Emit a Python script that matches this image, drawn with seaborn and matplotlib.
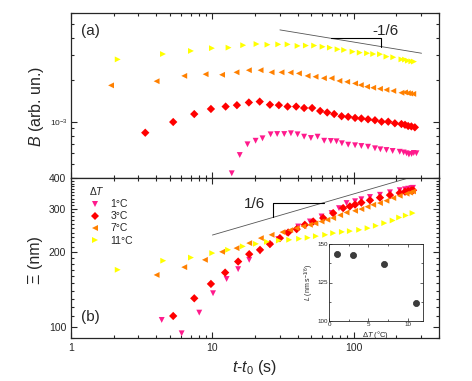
import pandas as pd
import seaborn as sns
import matplotlib.pyplot as plt
from matplotlib.ticker import FixedLocator, NullFormatter, LogLocator

# ---- data ----
labels = ['1°C', '3°C', '7°C', '11°C']
colors = {'1°C': '#ff1a8c', '3°C': '#ff0000', '7°C': '#ff8000', '11°C': '#ffff00'}
marks = {'1°C': 'v', '3°C': 'D', '7°C': '<', '11°C': '>'}

# panel (a): B vs t-t0
tB_1 = [13.7, 15.6, 17.7, 20.2, 22.6, 25.8, 28.7, 32.2, 35.9, 40.0, 44.5, 49.7, 55.4, 61.7,
        68.7, 75.4, 82.3, 91.2, 102, 113, 126, 141, 154, 170, 188, 211, 225, 236, 245, 256, 265, 277]
B_1 = [4.29e-4, 5.80e-4, 6.92e-4, 7.34e-4, 7.64e-4, 8.16e-4, 8.20e-4, 8.20e-4, 8.30e-4, 8.16e-4,
       7.85e-4, 7.68e-4, 7.85e-4, 7.34e-4, 7.31e-4, 7.27e-4, 7.04e-4, 6.88e-4, 6.81e-4, 6.73e-4,
       6.65e-4, 6.48e-4, 6.37e-4, 6.30e-4, 6.20e-4, 6.12e-4, 6.05e-4, 5.97e-4, 5.85e-4, 5.90e-4,
       6.00e-4, 5.97e-4]
tB_3 = [3.35, 5.28, 7.44, 9.76, 12.4, 14.9, 18.1, 21.6, 25.5, 29.5, 34.0, 39.1, 44.5, 50.7, 57.8,
        64.8, 72.6, 81.9, 91.2, 102, 113, 126, 141, 157, 175, 195, 217, 230, 242, 255, 270]
B_3 = [8.38e-4, 1.00e-3, 1.14e-3, 1.24e-3, 1.29e-3, 1.32e-3, 1.38e-3, 1.40e-3, 1.33e-3, 1.32e-3,
       1.29e-3, 1.29e-3, 1.26e-3, 1.26e-3, 1.20e-3, 1.17e-3, 1.14e-3, 1.10e-3, 1.09e-3, 1.07e-3,
       1.06e-3, 1.045e-3, 1.03e-3, 1.005e-3, 1.005e-3, 9.79e-4, 9.67e-4, 9.55e-4, 9.36e-4,
       9.30e-4, 9.16e-4]
tB_7 = [1.92, 4.03, 6.32, 8.95, 11.7, 14.8, 18.1, 21.9, 26.2, 30.8, 35.7, 40.9, 47.1, 53.6, 61.4,
        69.6, 79.0, 89.7, 102, 112, 124, 137, 153, 170, 190, 217, 230, 241, 250, 263]
B_7 = [1.83e-3, 1.96e-3, 2.14e-3, 2.20e-3, 2.18e-3, 2.27e-3, 2.35e-3, 2.35e-3, 2.27e-3, 2.27e-3,
       2.26e-3, 2.23e-3, 2.14e-3, 2.11e-3, 2.06e-3, 2.06e-3, 1.97e-3, 1.94e-3, 1.89e-3, 1.84e-3,
       1.79e-3, 1.76e-3, 1.73e-3, 1.70e-3, 1.67e-3, 1.62e-3, 1.63e-3, 1.61e-3, 1.60e-3, 1.59e-3]
tB_11 = [2.14, 4.47, 7.05, 9.92, 13.0, 16.5, 20.5, 24.5, 29.2, 34.0, 40.0, 45.8, 52.4, 60.1, 67.7,
         76.7, 85.4, 97.9, 110, 124, 137, 153, 170, 190, 217, 230, 241, 255, 266]
B_11 = [2.81e-3, 3.07e-3, 3.23e-3, 3.38e-3, 3.41e-3, 3.55e-3, 3.62e-3, 3.58e-3, 3.60e-3, 3.60e-3,
        3.51e-3, 3.53e-3, 3.53e-3, 3.46e-3, 3.41e-3, 3.32e-3, 3.28e-3, 3.19e-3, 3.14e-3, 3.11e-3,
        3.07e-3, 3.06e-3, 2.94e-3, 2.91e-3, 2.81e-3, 2.80e-3, 2.75e-3, 2.72e-3, 2.71e-3]

# panel (b): Xi vs t-t0
tX_1 = [4.38, 6.06, 8.07, 10.1, 12.6, 15.2, 18.2, 21.7, 25.5, 29.2, 33.4, 40.4, 48.9, 59.1, 69.6,
        78.5, 88.8, 102, 113, 130, 153, 180, 211, 230, 242, 255, 262]
X_1 = [106.5, 94.0, 114, 136.6, 156, 171, 186.5, 201.5, 214.5, 226.3, 239.3, 254.5, 266.7, 279.5,
       288.4, 302, 316.7, 322, 328, 335, 342, 350, 357, 360, 362, 364, 365]
tX_3 = [5.28, 7.44, 9.76, 12.3, 15.2, 18.2, 21.7, 25.5, 30.0, 34.3, 39.4, 45.0, 51.6, 60.7, 71.4,
        84.0, 93.7, 102, 113, 130, 153, 180, 211, 230, 242, 255, 262]
X_3 = [110.5, 130.3, 149, 165.6, 183.5, 196.6, 204.7, 216, 228.4, 240.6, 248.3, 258.6, 266.7,
       275.4, 288.4, 302.2, 307, 312, 318, 325, 333, 341, 348, 352, 354, 356, 357]
tX_7 = [4.03, 6.32, 8.85, 11.7, 14.8, 18.2, 22.0, 26.2, 31.3, 35.5, 39.4, 44.0, 48.9, 53.5, 59.1,
        65.0, 71.4, 80.0, 88.8, 102, 113, 125, 137, 153, 170, 190, 211, 236, 250, 262]
X_7 = [162, 174.2, 186.5, 201, 208, 218, 228.4, 235.5, 241.5, 246, 250.6, 255, 258.6, 262, 266.7,
       271, 275.4, 283, 290, 294.6, 299.4, 306, 311.7, 316.7, 323.6, 331.9, 339, 345.6, 349, 353]
tX_11 = [2.14, 4.49, 7.05, 9.97, 12.9, 16.4, 20.3, 24.3, 29.5, 34.9, 41.0, 47.1, 53.9, 62.7, 71.4,
         82.3, 93.7, 109, 125, 143, 164, 188, 209, 233, 260]
X_11 = [170, 185, 190.5, 198.6, 204.8, 211.5, 216.5, 220.7, 223.3, 224.8, 227, 229.1, 232.6,
        235.5, 239.3, 242, 243.8, 246.7, 250.6, 256.2, 262.7, 269.2, 276.8, 282, 288.4]

# inset
dT_inset = [1, 3, 7, 11]
L_inset = [143.5, 142.9, 137.0, 111.9]

# slope guides
guide_a_t, guide_a_B = [30, 301], [4.57e-3, 3.11e-3]
tri_a_t, tri_a_B = [68.8, 155, 155], [3.98e-3, 3.98e-3, 3.475e-3]
guide_b_t, guide_b_X = [10, 250], [235, 401.9]
tri_b_t, tri_b_X = [26.9, 26.9, 61.7], [277.1, 318.2, 318.2]


def frame(series, col):
    rows = []
    for lab, (t, v) in zip(labels, series):
        rows += [(lab, a, b) for a, b in zip(t, v)]
    return pd.DataFrame(rows, columns=['dT', 't', col])


dfB = frame([(tB_1, B_1), (tB_3, B_3), (tB_7, B_7), (tB_11, B_11)], 'B')
dfX = frame([(tX_1, X_1), (tX_3, X_3), (tX_7, X_7), (tX_11, X_11)], 'Xi')

sns.set_style("ticks")
plt.rcParams['font.family'] = ['Liberation Sans', 'DejaVu Sans']
plt.rcParams['mathtext.fontset'] = 'custom'
plt.rcParams['mathtext.rm'] = 'Liberation Sans'
plt.rcParams['mathtext.it'] = 'Liberation Sans:italic'

fig = plt.figure(figsize=(4.72, 3.81), dpi=100)
ax1 = fig.add_axes([0.1504, 0.5328, 0.7797, 0.4331])
ax2 = fig.add_axes([0.1504, 0.1129, 0.7797, 0.4199])

sns.scatterplot(data=dfB, x='t', y='B', hue='dT', style='dT', hue_order=labels, style_order=labels,
                palette=colors, markers=marks, s=18, linewidth=0, ax=ax1, legend=False)
sns.scatterplot(data=dfX, x='t', y='Xi', hue='dT', style='dT', hue_order=labels, style_order=labels,
                palette=colors, markers=marks, s=18, linewidth=0, ax=ax2, legend=True)

for ax in (ax1, ax2):
    ax.set_xscale('log')
    ax.set_yscale('log')
    ax.set_xlim(1, 400)
    ax.set_xticks([1, 10, 100])
    ax.xaxis.set_minor_locator(LogLocator(subs=range(2, 10)))
    ax.xaxis.set_minor_formatter(NullFormatter())
    ax.tick_params(which='both', direction='in', top=True, right=True, width=0.8, labelsize=7.5)
    ax.tick_params(which='major', length=4)
    ax.tick_params(which='minor', length=2)
    for sp in ax.spines.values():
        sp.set_linewidth(0.9)
    ax.set_xlabel('')
    ax.set_ylabel('')

# panel (a)
ax1.set_ylim(3.97e-4, 6.04e-3)
ax1.yaxis.set_major_locator(FixedLocator([1e-3]))
ax1.set_yticklabels([r'$10^{-3}$'])
ax1.yaxis.set_minor_locator(LogLocator(subs=range(2, 10)))
ax1.yaxis.set_minor_formatter(NullFormatter())
ax1.tick_params(axis='y', labelsize=6, pad=2.5)
ax1.tick_params(labelbottom=False)
ax1.set_ylabel(r'$B$ (arb. un.)', fontsize=11.5)
ax1.yaxis.set_label_coords(-0.068, 0.436)
ax1.text(0.027, 0.888, '(a)', transform=ax1.transAxes, fontsize=11, va='center')
ax1.plot(guide_a_t, guide_a_B, color='#555555', lw=0.6)
ax1.plot(tri_a_t, tri_a_B, color='black', lw=0.8)
ax1.text(168, 4.49e-3, '-1/6', fontsize=11, ha='center', va='center')

# panel (b)
ax2.set_ylim(90, 400)
ax2.set_yticks([100, 200, 300, 400])
ax2.set_yticklabels(['100', '200', '300', '400'])
ax2.yaxis.set_minor_locator(FixedLocator([v for v in range(90, 400, 10) if v % 100]))
ax2.yaxis.set_minor_formatter(NullFormatter())
ax2.set_xticklabels(['1', '10', '100'])
ax2.set_ylabel('Ξ (nm)', fontsize=11.5)
ax2.yaxis.set_label_coords(-0.076, 0.484)
ax2.set_xlabel(r'$t$-$t_0$ (s)', fontsize=11.5)
ax2.xaxis.set_label_coords(0.5, -0.125)
ax2.text(0.027, 0.133, '(b)', transform=ax2.transAxes, fontsize=11, va='center')
ax2.plot(guide_b_t, guide_b_X, color='#555555', lw=0.6)
ax2.plot(tri_b_t, tri_b_X, color='black', lw=0.8)
ax2.text(19.96, 314.7, '1/6', fontsize=11, ha='center', va='center')

old = ax2.get_legend()
handles = old.legend_handles
names = [t.get_text() for t in old.get_texts()]
ax2.legend(handles, names, title=r'$\Delta T$', loc='upper left', bbox_to_anchor=(0.05, 0.955),
           frameon=False, fontsize=7.5, title_fontsize=7.5, alignment='left', borderpad=0,
           handlelength=1.0, handletextpad=1.0, labelspacing=0.2, borderaxespad=0)

# inset
ax3 = fig.add_axes([329 / 472, 1 - 321 / 381, 94 / 472, 77 / 381])
sns.scatterplot(x=dT_inset, y=L_inset, ax=ax3, color='#3c3c3c', s=20, edgecolor='#1a1a1a', linewidth=0.4)
ax3.set_xlim(0, 11.9)
ax3.set_ylim(100, 150)
ax3.set_xticks([0, 5, 10])
ax3.set_yticks([100, 125, 150])
ax3.xaxis.set_minor_locator(FixedLocator([2.5, 7.5]))
ax3.yaxis.set_minor_locator(FixedLocator([112.5, 137.5]))
ax3.tick_params(which='both', direction='in', top=True, right=True, labelsize=4.5, width=0.5, pad=1)
ax3.tick_params(which='major', length=2.5)
ax3.tick_params(which='minor', length=1.5)
for sp in ax3.spines.values():
    sp.set_linewidth(0.6)
ax3.set_xlabel(r'$\Delta T$ (°C)', fontsize=5.5, labelpad=1)
ax3.set_ylabel(r'$L$ (nm s$^{-1/6}$)', fontsize=5, labelpad=1)

fig.savefig('out.png', dpi=100)
